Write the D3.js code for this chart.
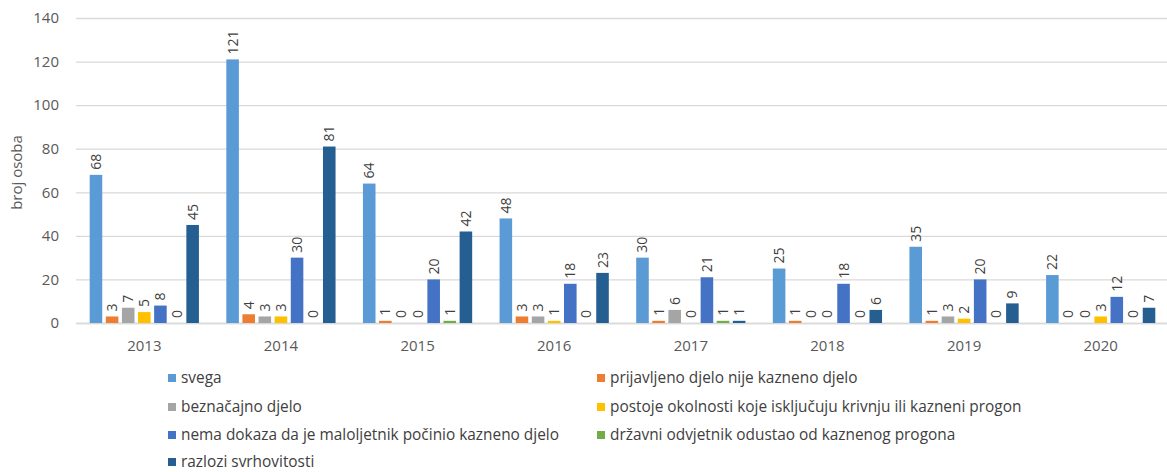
<!DOCTYPE html>
<html><head><meta charset="utf-8">
<script src="https://cdn.jsdelivr.net/npm/d3@7"></script>
<style>body{margin:0;background:#fff;} svg{display:block;font-family:"Open Sans",sans-serif;}</style>
</head><body>
<svg id="c" width="1167" height="472"></svg>
<script>
const years = ["2013","2014","2015","2016","2017","2018","2019","2020"];
const seriesNames = ["svega","prijavljeno djelo nije kazneno djelo","beznačajno djelo","postoje okolnosti koje isključuju krivnju ili kazneni progon","nema dokaza da je maloljetnik počinio kazneno djelo","državni odvjetnik odustao od kaznenog progona","razlozi svrhovitosti"];
const svega = [68,121,64,48,30,25,35,22];
const prijavljeno = [3,4,1,3,1,1,1,0];
const beznacajno = [7,3,0,3,6,0,3,0];
const postoje = [5,3,0,1,0,0,2,3];
const nemaDokaza = [8,30,20,18,21,18,20,12];
const drzavni = [0,0,1,0,1,0,0,0];
const razlozi = [45,81,42,23,1,6,9,7];
const yTicks = [0,20,40,60,80,100,120,140];
const colors = ["#5B9BD5","#ED7D31","#A5A5A5","#FFC000","#4472C4","#70AD47","#255E91"];
const values = [svega,prijavljeno,beznacajno,postoje,nemaDokaza,drzavni,razlozi];

const svg = d3.select("#c");
const mLeft = 76, mRight = 1169, mTop = 18, mBottom = 323;
const x = d3.scaleBand().domain(years).range([mLeft,mRight]).paddingInner(0).paddingOuter(0);
const y = d3.scaleLinear().domain([0,140]).range([mBottom,mTop]);
const groupPad = 13.7;
const inner = d3.scaleBand().domain(d3.range(7)).range([groupPad, x.bandwidth()-groupPad]).paddingInner(0.22).paddingOuter(0);

// gridlines
const yAxis = d3.axisLeft(y).tickValues(yTicks).tickSize(-(mRight-mLeft)).tickPadding(17);
const ga = svg.append("g").attr("transform",`translate(${mLeft},0)`).call(yAxis);
ga.select(".domain").remove();
ga.selectAll(".tick line").attr("stroke","#d9d9d9").attr("stroke-width",1.3);
ga.selectAll(".tick text").attr("fill","#595959").style("font-size","15px").style("font-family","'Open Sans',sans-serif");

// x axis
const xAxis = d3.axisBottom(x).tickSize(0).tickPadding(17);
const gx = svg.append("g").attr("transform",`translate(0,${mBottom})`).call(xAxis);
gx.select(".domain").attr("stroke","#d9d9d9").attr("stroke-width",1.3);
gx.selectAll(".tick text").attr("fill","#595959").style("font-size","15px").style("font-family","'Open Sans',sans-serif");

// y label
svg.append("text").attr("transform",`translate(22,${(mTop+mBottom)/2+2}) rotate(-90)`)
  .attr("text-anchor","middle").attr("fill","#595959").style("font-size","15px").text("broj osoba");

// bars
values.forEach((vals,si)=>{
  const g = svg.append("g");
  g.selectAll("rect").data(vals).join("rect")
    .attr("x",(d,i)=>x(years[i])+inner(si))
    .attr("width",inner.bandwidth())
    .attr("y",d=>y(d))
    .attr("height",d=>mBottom-y(d))
    .attr("fill",colors[si]);
  g.selectAll("text").data(vals).join("text")
    .attr("transform",(d,i)=>`translate(${x(years[i])+inner(si)+inner.bandwidth()/2+5},${y(d)-5}) rotate(-90)`)
    .attr("text-anchor","start").attr("fill","#404040").style("font-size","14px")
    .text(d=>d);
});

// legend
const legRows = [378,407,435,462];
const legItems = [[0,0],[1,1],[2,0],[3,1],[4,0],[5,1],[6,0]];
legItems.forEach(([si,col],k)=>{
  const row = Math.floor(k/2);
  const lx = col===0 ? 168 : 597;
  const ly = legRows[row];
  svg.append("rect").attr("x",lx).attr("y",ly-4).attr("width",8).attr("height",8).attr("fill",colors[si]);
  svg.append("text").attr("x",lx+13).attr("y",ly+4.5).attr("fill","#404040").style("font-size","15.4px").text(seriesNames[si]);
});
</script>
</body></html>
